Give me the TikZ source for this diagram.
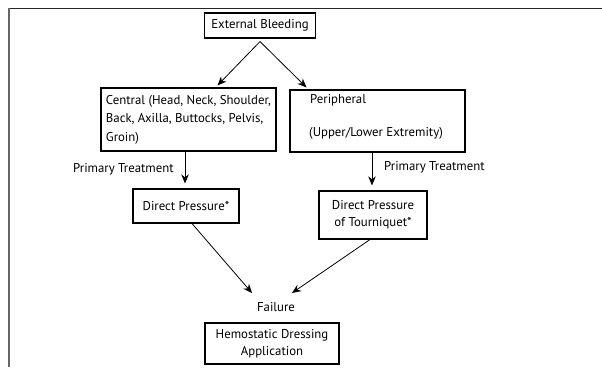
\documentclass[tikz,border=0pt]{standalone}
\usepackage{fontspec}
\setmainfont{PT Sans}
\usetikzlibrary{arrows.meta}
\begin{document}
\begin{tikzpicture}[x=1pt,y=-1pt,
  box/.style={draw,line width=1.1pt,inner sep=0pt,font=\fontsize{12.8}{17}\selectfont,align=center},
  txt/.style={inner sep=0pt,font=\fontsize{12.8}{17}\selectfont},
  arr/.style={line width=0.8pt,-{Stealth[length=9pt,width=7.5pt]}}]
\useasboundingbox (0,0) rectangle (602,367);
% frame
\draw[line width=0.9pt,black!85] (8,8) -- (602,8);
\draw[line width=2.4pt,black!60] (9.2,7.6) -- (9.2,367);
% nodes
\node[box,minimum width=111,minimum height=25] (ext) at (260,25.5) {External Bleeding};
\node[box,minimum width=175,minimum height=63,align=left,
  font=\fontsize{12.8}{18.5}\selectfont] (cen) at (188.5,119.5)
  {Central (Head, Neck, Shoulder,\\Back, Axilla, Buttocks, Pelvis,\\Groin)};
\node[box,minimum width=175,minimum height=62] (per) at (377.5,121) {};
\node[txt,anchor=west] (pert1) at (310,100) {Peripheral};
\node[txt,anchor=west] (pert2) at (309,133) {(Upper/Lower Extremity)};
\node[txt,anchor=west] (pt1) at (73,169) {Primary Treatment};
\node[txt,anchor=west] (pt2) at (384,167) {Primary Treatment};
\node[box,minimum width=106,minimum height=34] (dp) at (186,206) {Direct Pressure*};
\node[box,minimum width=108,minimum height=48] (dt) at (373,215) {Direct Pressure\\of Tourniquet*};
\node[txt] (fail) at (276,307) {Failure};
\node[box,minimum width=134,minimum height=41] (hem) at (272,343.5) {Hemostatic Dressing\\Application};
% connectors
\draw[arr] ([yshift=-3]ext.south) -- ([xshift=29,yshift=2]cen.north);
\draw[arr] ([yshift=-3]ext.south) -- ([xshift=-71,yshift=2]per.north);
\draw[arr] ([xshift=-3.5]cen.south) -- ([xshift=-1,yshift=5]dp.north);
\draw[arr] ([xshift=-5.5]per.south) -- ([xshift=-1,yshift=5]dt.north);
\draw[arr] ([xshift=6]dp.south) -- ([xshift=-24,yshift=14]fail.center);
\draw[arr] ([xshift=-3]dt.south) -- ([xshift=16,yshift=14]fail.center);
\end{tikzpicture}
\end{document}
